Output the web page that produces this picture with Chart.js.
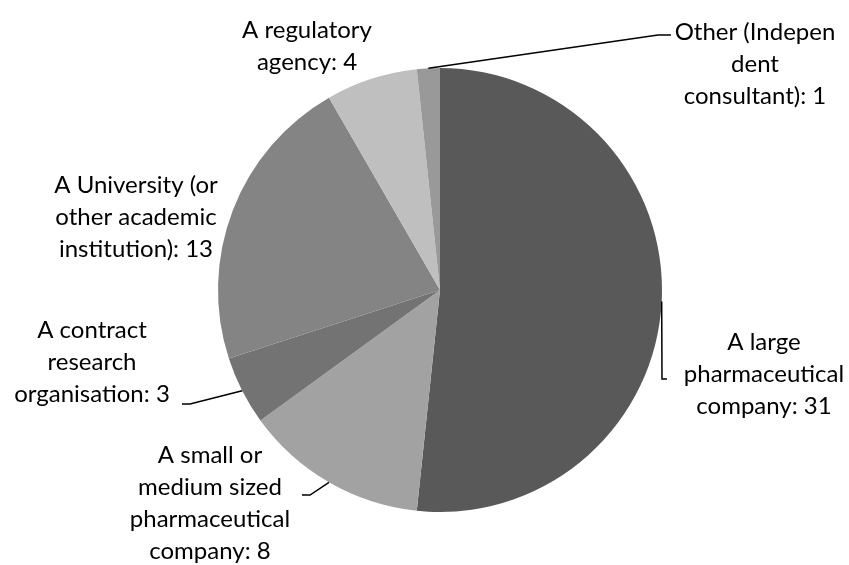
<!DOCTYPE html>
<html>
<head>
<meta charset="utf-8">
<script src="https://cdn.jsdelivr.net/npm/chart.js@4"></script>
<style>
  html, body { margin: 0; padding: 0; background: #ffffff; }
  #wrap { width: 849px; height: 565px; position: relative; }
</style>
</head>
<body>
<div id="wrap"><canvas id="c"></canvas></div>
<script>
// ---- data ----
const categories = [
  "A large pharmaceutical company",
  "A small or medium sized pharmaceutical company",
  "A contract research organisation",
  "A University (or other academic institution)",
  "A regulatory agency",
  "Other (Independent consultant)"
];
const responses = [31, 8, 3, 13, 4, 1];
// wrapped label lines as shown on the chart (value appended to last line)
const labelLines = [
  ["A large", "pharmaceutical", "company"],
  ["A small or", "medium sized", "pharmaceutical", "company"],
  ["A contract", "research", "organisation"],
  ["A University (or", "other academic", "institution)"],
  ["A regulatory", "agency"],
  ["Other (Indepen", "dent", "consultant)"]
];
const sliceColors = ["#595959", "#a2a2a2", "#737373", "#848484", "#bfbfbf", "#999999"];

// ---- layout (label placement, not data) ----
const LINE_H = 32;
const labelLayout = [
  { cx: 764, y0: 350, leader: [[662, 379], [667, 379]] },
  { cx: 210, y0: 463, leader: [[310, 495], [302, 495]] },
  { cx: 92,  y0: 338, leader: [[190, 404], [182, 404]] },
  { cx: 136, y0: 193, leader: null },
  { cx: 307, y0: 38,  leader: null },
  { cx: 755, y0: 40,  leader: [[658, 35], [671, 35]] }
];

const labelPlugin = {
  id: 'pieLabels',
  afterDraw(chart) {
    const ctx = chart.ctx;
    const meta = chart.getDatasetMeta(0);
    ctx.save();
    meta.data.forEach((arc, i) => {
      const lay = labelLayout[i];
      const p = arc.getProps(['x', 'y', 'startAngle', 'endAngle', 'outerRadius'], true);
      const mid = (p.startAngle + p.endAngle) / 2;
      const ax = p.x + Math.cos(mid) * p.outerRadius;
      const ay = p.y + Math.sin(mid) * p.outerRadius;
      if (lay.leader) {
        ctx.beginPath();
        ctx.strokeStyle = '#000000';
        ctx.lineWidth = 1.5;
        ctx.moveTo(ax, ay);
        lay.leader.forEach(pt => ctx.lineTo(pt[0], pt[1]));
        ctx.stroke();
      }
      const lines = labelLines[i].slice();
      lines[lines.length - 1] = lines[lines.length - 1] + ': ' + chart.data.datasets[0].data[i];
      ctx.fillStyle = '#000000';
      ctx.font = '24px Lato, "Open Sans", sans-serif';
      ctx.textAlign = 'center';
      ctx.textBaseline = 'alphabetic';
      lines.forEach((t, k) => ctx.fillText(t, lay.cx, lay.y0 + k * LINE_H));
    });
    ctx.restore();
  }
};

new Chart(document.getElementById('c'), {
  type: 'pie',
  data: {
    labels: categories,
    datasets: [{
      data: responses,
      backgroundColor: sliceColors,
      borderWidth: 0
    }]
  },
  options: {
    responsive: true,
    maintainAspectRatio: false,
    animation: false,
    layout: { padding: { top: 68, bottom: 53, left: 218, right: 187 } },
    plugins: { legend: { display: false }, tooltip: { enabled: false } }
  },
  plugins: [labelPlugin]
});
</script>
</body>
</html>
